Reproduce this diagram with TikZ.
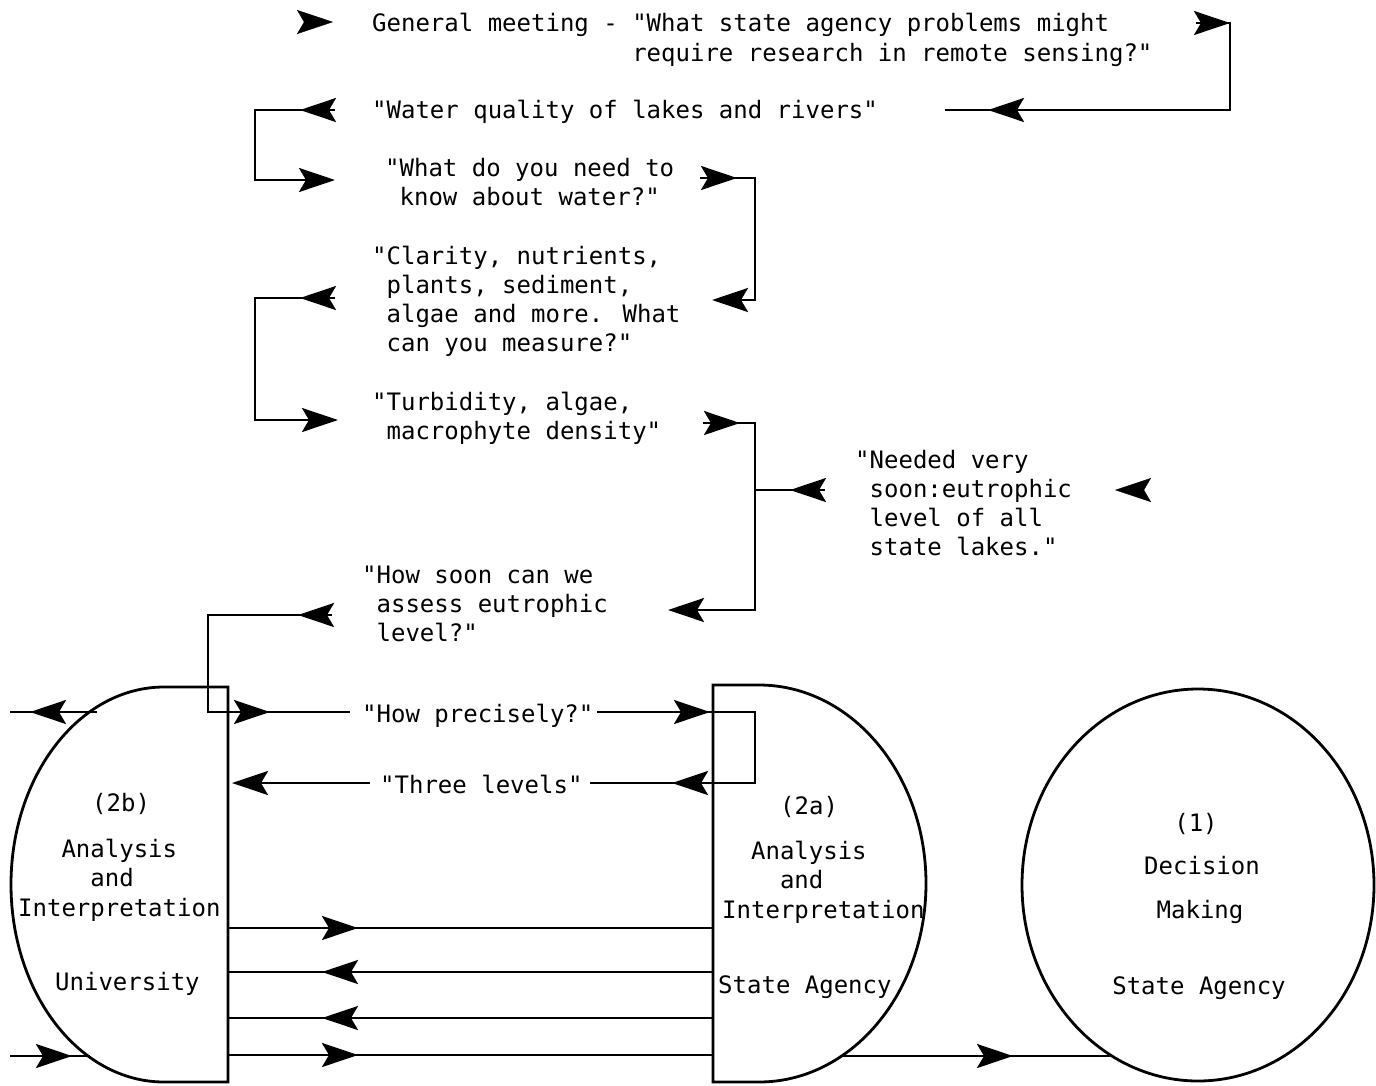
\documentclass[tikz,border=0pt]{standalone}
\usepackage{fontspec}
\usepackage{tikz}
\usetikzlibrary{arrows.meta,decorations.markings,shapes.geometric}
\newfontfamily\typer{DejaVu Sans Mono}
\newlength\chw
\setlength\chw{14.45pt}

\begin{document}
\begin{tikzpicture}[x=1pt,y=-1pt,
  dart/.tip={Stealth[length=36pt,width=24pt,inset=7pt]},
  wire/.style={line width=2.8pt},
  hd/.style={postaction={decorate,decoration={markings,mark=at position #1 with {\arrow{dart}}}}},
  txt/.style={font=\typer\fontsize{24}{28.8}\selectfont,inner sep=0pt,anchor=base west,align=left},
  ctr/.style={font=\typer\fontsize{24}{28.8}\selectfont,inner sep=0pt,anchor=base}
]
\useasboundingbox (0,0) rectangle (1376,1085);

% dialogue (base = last line)
\node[txt,font=\typer\fontsize{24}{30}\selectfont] (meet) at (372,61) {General meeting - "What state agency problems might\\\hphantom{General meeting - }require research in remote sensing?"};
\node[txt] (qual) at (372,118) {"Water quality of lakes and rivers"};
\node[txt] (need) at (385,205) {"What do you need to\\\hphantom{"}know about water?"};
\node[txt] (clar) at (372,351) {"Clarity, nutrients,\\\hphantom{"}plants, sediment,\\\hphantom{"}algae and more. What\\\hphantom{"}can you measure?"};
\node[txt] (turb) at (372,439) {"Turbidity, algae,\\\hphantom{"}macrophyte density"};
\node[txt] (soon) at (855,555) {"Needed very\\\hphantom{"}soon:eutrophic\\\hphantom{"}level of all\\\hphantom{"}state lakes."};
\node[txt] (asks) at (362,641) {"How soon can we\\\hphantom{"}assess eutrophic\\\hphantom{"}level?"};
\node[txt] (prec) at (362,722) {"How precisely?"};
\node[txt] (three) at (380,793) {"Three levels"};

% the three parties
\draw[wire] (228,687) -- (164,687) arc[start angle=-90,end angle=-270,x radius=153,y radius=197.5] -- (228,1082) -- cycle;
\draw[wire] (713,685) -- (759,685) arc[start angle=-90,end angle=90,x radius=167,y radius=198.5] -- (713,1082) -- cycle;
\node[ellipse,draw,wire,minimum width=352pt,minimum height=392pt,inner sep=0pt] (dm) at (1198,885) {};

\node[txt] (tagB) at (92,811) {(2b)};
\node[txt,font=\typer\fontsize{24}{29.5}\selectfont] (anaB) at (18,916) {\hspace*{3\chw}Analysis\\\hspace*{5\chw}and\\Interpretation};
\node[txt] (uni) at (55,990) {University};
\node[txt] (tagA) at (780,814) {(2a)};
\node[txt,font=\typer\fontsize{24}{29.5}\selectfont] (anaA) at (722,918) {\hspace*{2\chw}Analysis\\\hspace*{4\chw}and\\Interpretation};
\node[txt] (stA) at (718,993) {State Agency};
\node[ctr] (tagD) at (1196,831) {(1)};
\node[ctr] (decD) at (1202,874) {Decision};
\node[ctr] (makD) at (1200,918) {Making};
\node[ctr] (stD) at (1199,994) {State Agency};

% connector ends
\coordinate (mIn) at (297,22);
\coordinate (tr0) at (1196,23);
\coordinate (tr3) at (945,110);
\coordinate (qa) at (335,110);
\coordinate (qb) at (335,180);
\coordinate (na) at (700,178);
\coordinate (nb) at (712,300);
\coordinate (ca) at (335,298);
\coordinate (cb) at (338,420);
\coordinate (ta) at (703,423);
\coordinate (tb) at (668,610);
\coordinate (sa) at (825,490);
\coordinate (sIn) at (1152,490);
\coordinate (ha) at (332,615);
\coordinate (hb) at (350,712);
\coordinate (pa) at (597,712);
\coordinate (pb) at (590,783);
\coordinate (la) at (370,783);
\coordinate (lb) at (232,783);
\coordinate (uniE) at (228,884);
\coordinate (agE) at (713,884);
\coordinate (outA) at (840,1056);
\coordinate (inD) at (1110,1056);

\path[hd=36pt] (mIn) -- ++(50,0);
\draw[wire,hd=34pt,hd=363pt] (tr0) -- ++(34,0) |- (tr3);
\draw[wire,hd=35pt,-dart] (qa) -- ++(-80,0) |- (qb);
\draw[wire,hd=37pt,-dart] (na) -- ++(55,0) |- (nb);
\draw[wire,hd=35pt,-dart] (ca) -- ++(-80,0) |- (cb);
\draw[wire,hd=37pt,-dart] (ta) -- ++(52,0) |- (tb);
\draw[wire,hd=35pt] (sa) -- ++(-70,0);
\path[hd=37pt] (sIn) -- ++(-50,0);
\draw[wire,hd=34pt,hd=283pt] (ha) -- ++(-124,0) |- (hb);
\draw[wire,hd=113pt,hd=312pt] (pa) -- ++(158,0) |- (pb);
\draw[wire,-dart] (la) -- (lb);
\foreach \yy in {928,1055}
  \draw[wire,hd=130pt] (uniE |- 0,\yy) -- (agE |- 0,\yy);
\foreach \yy in {972,1018}
  \draw[wire,hd=391pt] (agE |- 0,\yy) -- (uniE |- 0,\yy);
\draw[wire,hd=67pt] (97,712) -- (10,712);
\draw[wire,hd=62pt] (10,1056) -- (90,1056);
\draw[wire,hd=173pt] (outA) -- (inD);
\end{tikzpicture}
\end{document}
